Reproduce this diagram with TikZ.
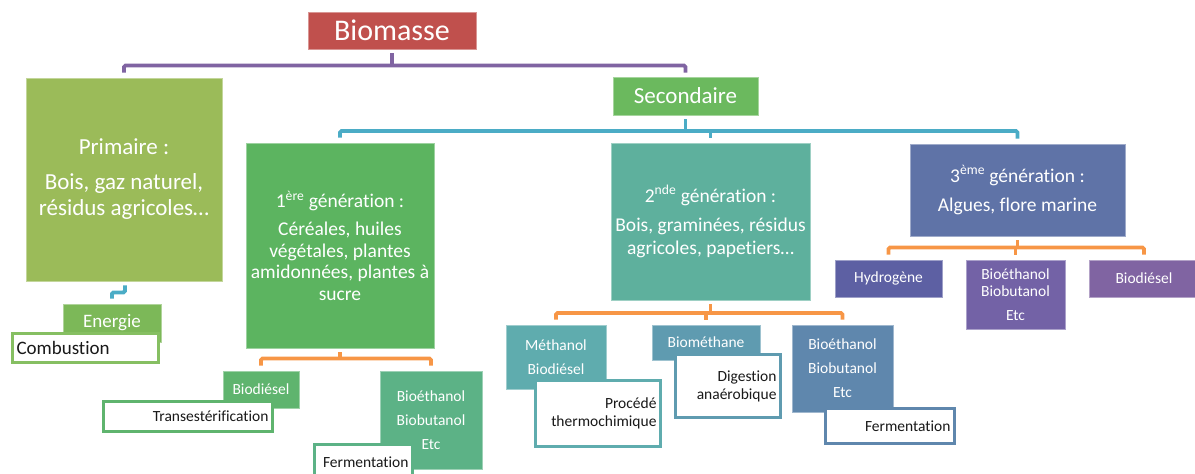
\documentclass[tikz,border=0pt]{standalone}
\usepackage{fontspec}
\setmainfont{Carlito}[Ligatures={NoCommon}]
\definecolor{cBiom}{HTML}{C0504D}
\definecolor{cPrim}{HTML}{9BBB59}
\definecolor{cSec}{HTML}{6BB95E}
\definecolor{cGenA}{HTML}{5CB460}
\definecolor{cGenB}{HTML}{5EB09D}
\definecolor{cGenC}{HTML}{5F73A7}
\definecolor{cEner}{HTML}{7CB858}
\definecolor{cComb}{HTML}{86BF62}
\definecolor{cBioA}{HTML}{5FB46E}
\definecolor{cEthA}{HTML}{5CB286}
\definecolor{cMeth}{HTML}{5FACAE}
\definecolor{cBmet}{HTML}{5F9BB0}
\definecolor{cEthB}{HTML}{5F87AD}
\definecolor{cHydr}{HTML}{5D60A3}
\definecolor{cEthC}{HTML}{7362A6}
\definecolor{cBioC}{HTML}{8064A2}
\definecolor{cPurple}{HTML}{8064A2}
\definecolor{cBlue}{HTML}{4BACC6}
\definecolor{cOrange}{HTML}{F79646}
\begin{document}
\begin{tikzpicture}[x=1pt,y=-1pt,
  cbox/.style={fill=#1, draw=#1!60!white, line width=0.8pt, text=white,
    inner sep=0pt, align=center},
  obox/.style={fill=white, draw=#1, line width=2.8pt, text=black!90,
    inner xsep=4pt, inner ysep=0pt},
  conn/.style={line width=3.8pt, rounded corners=1.5pt},
  big/.style={font=\fontsize{19.5}{21.5}\selectfont},
  small/.style={font=\fontsize{15.5}{24}\selectfont}]
\useasboundingbox (0,0) rectangle (1195,474);

% ---- level 0/1
\node[cbox=cBiom, minimum width=168pt, minimum height=37pt,
  font=\fontsize{30}{36}\selectfont] (biomasse) at (392,30.5) {Biomasse};
\node[cbox=cPrim, minimum width=196pt, minimum height=203pt,
  font=\fontsize{23}{26}\selectfont] (primaire) at (124,179.5)
  {Primaire :\\[9pt]Bois, gaz naturel,\\résidus agricoles…};
\node[cbox=cSec, minimum width=145pt, minimum height=38pt,
  font=\fontsize{23}{28}\selectfont] (secondaire) at (685.5,96) {Secondaire};

% ---- generations
\node[cbox=cGenA, big, minimum width=188pt, minimum height=205pt] (gen1) at (340,245.5)
  {1\textsuperscript{ère} génération :\\[6.5pt]Céréales, huiles\\végétales, plantes\\amidonnées, plantes à\\sucre};
\node[cbox=cGenB, minimum width=199pt, minimum height=157pt,
  font=\fontsize{19.5}{23}\selectfont] (gen2) at (710.5,221.5)
  {2\textsuperscript{nde} génération :\\[6pt]Bois, graminées, résidus\\agricoles, papetiers…};
\node[cbox=cGenC, minimum width=215pt, minimum height=92pt,
  font=\fontsize{19.5}{25}\selectfont] (gen3) at (1017.5,190)
  {3\textsuperscript{ème} génération :\\[4pt]Algues, flore marine};

% ---- primary products
\node[cbox=cEner, minimum width=98pt, minimum height=38pt,
  font=\fontsize{19}{23}\selectfont] (energie) at (112,323) {Energie};
\node[obox=cComb, minimum width=146pt, minimum height=29pt, text width=138pt,
  align=left, font=\fontsize{19}{23}\selectfont] (combustion) at (85.5,348) {Combustion};

% ---- 1st generation products
\node[cbox=cBioA, small, minimum width=76pt, minimum height=37pt] (bioA) at (261,389.5) {Biodiésel};
\node[cbox=cEthA, small, minimum width=102pt, minimum height=98pt] (ethA) at (431,420)
  {Bioéthanol\\Biobutanol\\Etc};
\node[obox=cBioA, small, minimum width=169pt, minimum height=30pt, text width=161pt,
  align=right] (transest) at (188,416.5) {Transestérification};
\node[obox=cEthA, small, minimum width=98pt, minimum height=35pt, text width=90pt,
  align=right] (fermA) at (363.5,462) {Fermentation};

% ---- 2nd generation products
\node[cbox=cMeth, minimum width=100pt, minimum height=64pt,
  font=\fontsize{15.5}{24.5}\selectfont] (meth) at (556,357) {Méthanol\\Biodiésel};
\node[cbox=cBmet, small, minimum width=108pt, minimum height=35pt] (bmet) at (706,342.5) {Biométhane};
\node[cbox=cEthB, small, minimum width=101pt, minimum height=87pt] (ethB) at (842.5,368.5)
  {Bioéthanol\\Biobutanol\\Etc};
\node[obox=cMeth, minimum width=125pt, minimum height=66pt, text width=117pt,
  align=right, font=\fontsize{15.5}{18}\selectfont] (procede) at (598,413.5)
  {Procédé\\thermochimique};
\node[obox=cBmet, minimum width=105pt, minimum height=63pt, text width=97pt,
  align=right, font=\fontsize{15.5}{18}\selectfont] (digestion) at (728,386)
  {Digestion\\anaérobique};
\node[obox=cEthB, small, minimum width=129pt, minimum height=35pt, text width=121pt,
  align=right] (fermB) at (890,426) {Fermentation};

% ---- 3rd generation products
\node[cbox=cHydr, small, minimum width=107pt, minimum height=37pt] (hydro) at (888.5,278.5) {Hydrogène};
\node[cbox=cEthC, minimum width=99pt, minimum height=69pt,
  font=\fontsize{15.5}{17}\selectfont] (ethC) at (1015.5,294.5)
  {Bioéthanol\\Biobutanol\\[7pt]Etc};
\node[cbox=cBioC, small, minimum width=110pt, minimum height=37pt] (bioC) at (1144,278.5) {Biodiésel};

% ---- connectors
\coordinate (pbar) at (0,65.5);
\coordinate (bbar) at (0,131);
\coordinate (obarA) at (0,358.5);
\coordinate (obarB) at (0,313);
\coordinate (obarC) at (0,247.5);

\draw[conn,cPurple] ([yshift=-4pt]biomasse.south) -- (pbar -| biomasse.south);
\draw[conn,cPurple] ([yshift=5pt]primaire.north) |- (pbar -| secondaire.north) -- ([yshift=4pt]secondaire.north);

\draw[conn,cBlue] ([yshift=-4pt]secondaire.south) -- (bbar -| secondaire.south);
\draw[conn,cBlue] ([yshift=5pt]gen1.north) |- (bbar -| gen3.north) -- ([yshift=5pt]gen3.north);
\draw[conn,cBlue] (bbar -| gen2.north) -- ([yshift=5pt]gen2.north);

\draw[conn,cBlue] ([xshift=1pt,yshift=-4pt]primaire.south) -- ++(0,7) -| ([yshift=5pt]energie.north);

\draw[conn,cOrange] ([yshift=-4pt]gen1.south) -- (obarA -| gen1.south);
\draw[conn,cOrange] ([yshift=5pt]bioA.north) |- (obarA -| ethA.north) -- ([yshift=5pt]ethA.north);

\draw[conn,cOrange] ([yshift=-4pt]gen2.south) -- (obarB -| gen2.south);
\draw[conn,cOrange] ([yshift=5pt]meth.north) |- (obarB -| ethB.north) -- ([yshift=5pt]ethB.north);
\draw[conn,cOrange] (obarB -| bmet.north) -- ([yshift=5pt]bmet.north);

\draw[conn,cOrange] ([yshift=-4pt]gen3.south) -- (obarC -| gen3.south);
\draw[conn,cOrange] ([yshift=5pt]hydro.north) |- (obarC -| bioC.north) -- ([yshift=5pt]bioC.north);
\draw[conn,cOrange] (obarC -| ethC.north) -- ([yshift=5pt]ethC.north);
\end{tikzpicture}
\end{document}
